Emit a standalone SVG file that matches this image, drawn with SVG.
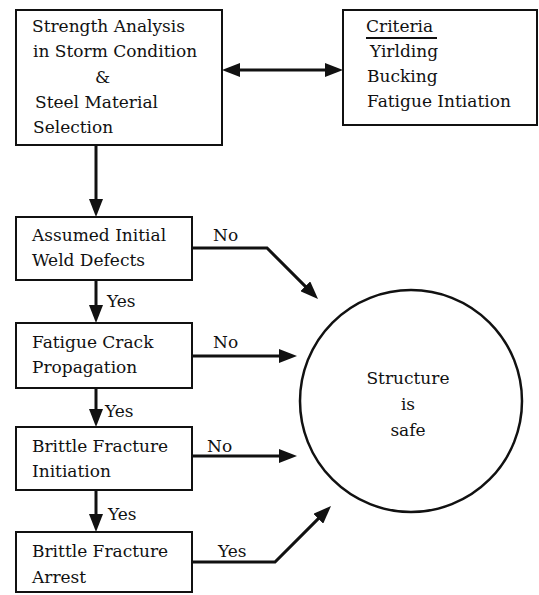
<svg xmlns="http://www.w3.org/2000/svg" width="539" height="595" viewBox="0 0 539 595">
<style>
.box{fill:#fff;stroke:#111;stroke-width:2}
.t{font-family:"DejaVu Serif","Liberation Serif",serif;font-size:17px;fill:#111}
.c{stroke:#111;stroke-width:3;fill:none}
</style>
<defs>
<marker id="ah" viewBox="0 0 18 14" markerWidth="18" markerHeight="14" markerUnits="userSpaceOnUse" refX="4" refY="7" orient="auto-start-reverse">
<path d="M0,0 L18,7 L0,14 z" fill="#111"/>
</marker>
</defs>
<rect width="539" height="595" fill="#fff"/>
<g id="connectors">
<line class="c" x1="236" y1="70" x2="329" y2="70" marker-start="url(#ah)" marker-end="url(#ah)"/>
<line class="c" x1="96" y1="145" x2="96" y2="203" marker-end="url(#ah)"/>
<line class="c" x1="96" y1="280" x2="96" y2="309" marker-end="url(#ah)"/>
<line class="c" x1="96" y1="388" x2="96" y2="413" marker-end="url(#ah)"/>
<line class="c" x1="96" y1="490" x2="96" y2="518" marker-end="url(#ah)"/>
<polyline class="c" points="192,248 267,248 308.1,289.1" marker-end="url(#ah)"/>
<line class="c" x1="192" y1="356" x2="283" y2="356" marker-end="url(#ah)"/>
<line class="c" x1="192" y1="456" x2="283" y2="456" marker-end="url(#ah)"/>
<polyline class="c" points="192,562 275,562 321.1,515.9" marker-end="url(#ah)"/>
<text class="t" x="107" y="307">Yes</text>
<text class="t" x="105" y="417">Yes</text>
<text class="t" x="108" y="520">Yes</text>
<text class="t" x="213" y="241">No</text>
<text class="t" x="213" y="348">No</text>
<text class="t" x="207" y="452">No</text>
<text class="t" x="218" y="557">Yes</text>
</g>
<g id="strength">
<rect class="box" x="16" y="10" width="206" height="135"/>
<text class="t" x="32" y="32">Strength Analysis</text>
<text class="t" x="33" y="57">in Storm Condition</text>
<text class="t" x="95" y="83">&amp;</text>
<text class="t" x="35" y="108">Steel Material</text>
<text class="t" x="33" y="133">Selection</text>
</g>
<g id="criteria">
<rect class="box" x="343" y="10" width="194" height="115"/>
<text class="t" x="366" y="32">Criteria</text>
<line x1="366" y1="38" x2="437" y2="38" stroke="#111" stroke-width="2"/>
<text class="t" x="370" y="57">Yirlding</text>
<text class="t" x="367" y="82">Bucking</text>
<text class="t" x="367" y="107">Fatigue Intiation</text>
</g>
<g id="defects">
<rect class="box" x="16" y="217" width="176" height="63"/>
<text class="t" x="32" y="241">Assumed Initial</text>
<text class="t" x="32" y="266">Weld Defects</text>
</g>
<g id="fatigue">
<rect class="box" x="16" y="323" width="176" height="65"/>
<text class="t" x="32" y="348">Fatigue Crack</text>
<text class="t" x="32" y="373">Propagation</text>
</g>
<g id="initiation">
<rect class="box" x="16" y="427" width="176" height="63"/>
<text class="t" x="32" y="452">Brittle Fracture</text>
<text class="t" x="32" y="477">Initiation</text>
</g>
<g id="arrest">
<rect class="box" x="16" y="532" width="176" height="60"/>
<text class="t" x="32" y="557">Brittle Fracture</text>
<text class="t" x="32" y="583">Arrest</text>
</g>
<g id="safe">
<circle cx="411" cy="401" r="111" fill="#fff" stroke="#111" stroke-width="2.5"/>
<text class="t" x="408" y="384" text-anchor="middle">Structure</text>
<text class="t" x="408" y="410" text-anchor="middle">is</text>
<text class="t" x="408" y="436" text-anchor="middle">safe</text>
</g>
</svg>
